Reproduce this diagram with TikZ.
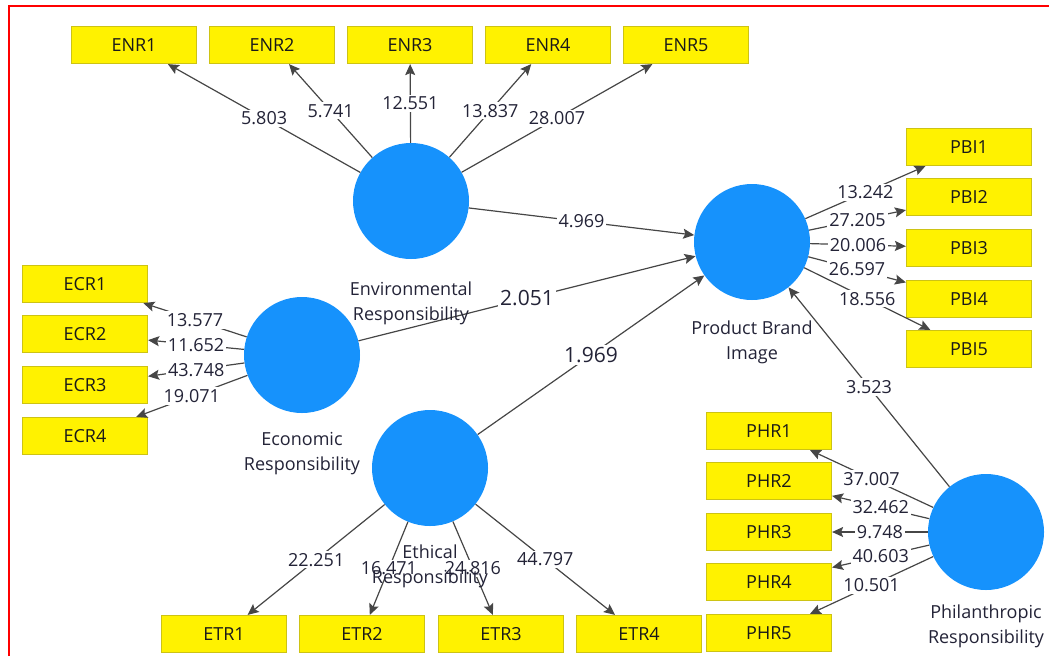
\documentclass[tikz,border=0pt]{standalone}
\usepackage{fontspec}
\setmainfont{Open Sans}
\usetikzlibrary{arrows.meta,positioning}

\begin{document}
\begin{tikzpicture}[x=1pt,y=-1pt,
    latent/.style={circle, fill=lvblue, minimum size=116pt, inner sep=0pt},
    indicator/.style={rectangle, fill=yellow, draw=boxborder, line width=1.2pt,
      minimum width=125pt, minimum height=37pt, inner sep=0pt,
      font=\fontsize{18}{20}\selectfont, text=boxtext},
    lvname/.style={align=center, inner sep=0pt, font=\fontsize{18}{25}\selectfont, text=nametext},
    arrowline/.style={draw=linegray, line width=1.2pt, -{Stealth[length=11pt,width=10pt,inset=2pt]}},
    coef/.style={fill=white, inner sep=2pt, font=\fontsize{18}{20}\selectfont, text=nametext},
    bigcoef/.style={coef, font=\fontsize{21}{24}\selectfont}
  ]

  % Colours of the model
  \definecolor{lvblue}{RGB}{22,146,252}     % latent variables
  \definecolor{boxborder}{RGB}{205,195,20}  % indicator outline
  \definecolor{boxtext}{RGB}{25,25,25}
  \definecolor{nametext}{RGB}{35,35,55}
  \definecolor{linegray}{RGB}{70,70,70}

  \useasboundingbox (0,0) rectangle (1049,656);

  % Red frame (top and left edge)
  \draw[red, line width=2.5pt] (9,656) -- (9,6) -- (1049,6);

  % Latent variables
  \node[latent] (env)  at (411,201) {};
  \node[latent] (pbi)  at (752,242) {};
  \node[latent] (eco)  at (302,355) {};
  \node[latent] (eth)  at (430,468) {};
  \node[latent] (phil) at (986,532) {};

  % Indicators
  \foreach \i/\x in {1/134,2/272,3/410,4/548,5/686}
    \node[indicator] (enr\i) at (\x,45) {ENR\i};
  \foreach \i/\y in {1/284,2/334,3/385,4/436}
    \node[indicator] (ecr\i) at (85,\y) {ECR\i};
  \foreach \i/\y in {1/147,2/197,3/248,4/299,5/349}
    \node[indicator] (pbi\i) at (969,\y) {PBI\i};
  \foreach \i/\y in {1/431,2/481,3/532,4/582,5/633}
    \node[indicator] (phr\i) at (769,\y) {PHR\i};
  \foreach \i/\x in {1/224,2/362,3/501,4/639}
    \node[indicator] (etr\i) at (\x,634) {ETR\i};

  % Outer loadings
  \foreach \i/\v in {1/5.803,2/5.741,3/12.551,4/13.837,5/28.007}
    \draw[arrowline] (env) -- node[coef] {\v} (enr\i);
  \foreach \i/\v in {1/13.577,2/11.652,3/43.748,4/19.071}
    \draw[arrowline] (eco) -- node[coef] {\v} (ecr\i);
  \foreach \i/\v in {1/13.242,2/27.205,3/20.006,4/26.597,5/18.556}
    \draw[arrowline] (pbi) -- node[coef] {\v} (pbi\i);
  \foreach \i/\v in {1/37.007,2/32.462,3/9.748,4/40.603,5/10.501}
    \draw[arrowline] (phil) -- node[coef] {\v} (phr\i);
  \foreach \i/\v in {1/22.251,2/16.471,3/24.816,4/44.797}
    \draw[arrowline] (eth) -- node[coef] {\v} (etr\i);

  % Inner model
  \draw[arrowline] (env) -- node[coef] {4.969} (pbi);
  \draw[arrowline] (eco) -- node[bigcoef] {2.051} (pbi);
  \draw[arrowline] (eth) -- node[bigcoef] {1.969} (pbi);
  \draw[arrowline] (phil) -- node[coef] {3.523} (pbi);

  % Names of the constructs
  \node[lvname, below=22pt of env]  (envname)  {Environmental\\Responsibility};
  \node[lvname, below=20pt of pbi]  (pbiname)  {Product Brand\\Image};
  \node[lvname, below=19pt of eco]  (econame)  {Economic\\Responsibility};
  \node[lvname, below=18pt of eth]  (ethname)  {Ethical\\Responsibility};
  \node[lvname, below=14pt of phil] (philname) {Philanthropic\\Responsibility};

\end{tikzpicture}
\end{document}
